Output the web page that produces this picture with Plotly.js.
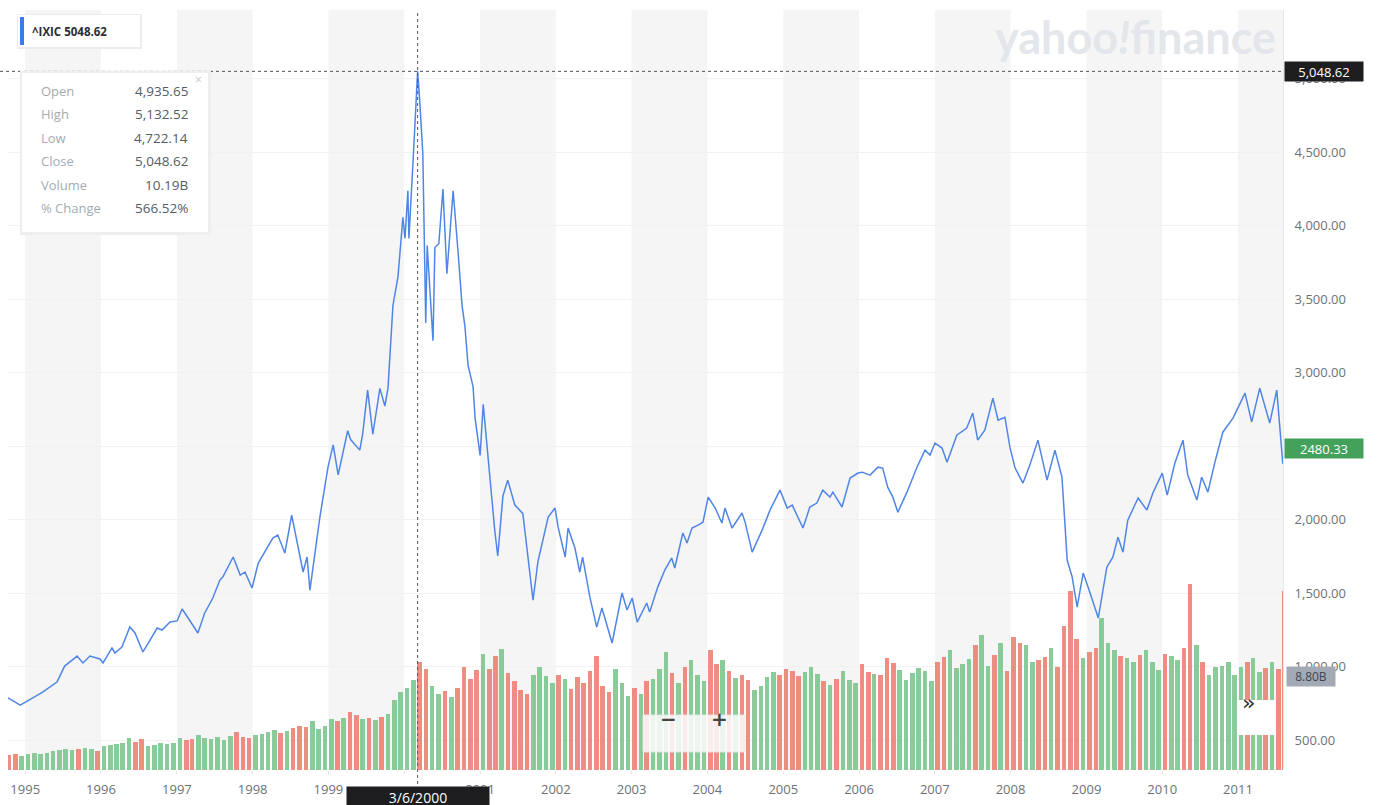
<!DOCTYPE html>
<html><head><meta charset="utf-8">
<script src="https://cdn.plot.ly/plotly-3.0.1.min.js"></script>
<style>html,body{margin:0;padding:0;background:#fff;}#chart{width:1378px;height:805px;}</style>
</head><body><div id="chart"></div>
<script>
// ---- price (weekly close) ----
const priceDates = [
 '1994-10-10','1994-12-08',
 '1995-03-26','1995-06-03','1995-07-10','1995-09-08','1995-10-06','1995-11-09','1995-12-27',
 '1996-01-11','1996-02-23','1996-03-08','1996-04-11','1996-05-19','1996-06-13','1996-07-21','1996-08-10','1996-09-28','1996-10-21','1996-11-29',
 '1997-01-02','1997-01-26','1997-02-24','1997-04-12','1997-05-15','1997-06-23','1997-07-27','1997-08-10','1997-09-29','1997-11-02','1997-11-25','1997-12-29',
 '1998-01-28','1998-03-01','1998-04-08','1998-05-02','1998-06-05','1998-07-08','1998-08-07','1998-09-01','1998-09-20','1998-10-04','1998-11-07','1998-11-21','1998-12-30',
 '1999-01-24','1999-02-17','1999-04-04','1999-04-18','1999-06-01','1999-06-15','1999-07-09','1999-08-03','1999-09-06','1999-09-30','1999-10-15','1999-11-08','1999-12-02','1999-12-26',
 '2000-01-05','2000-01-19','2000-01-24','2000-02-13','2000-03-06','2000-03-16','2000-03-31','2000-04-14','2000-04-21','2000-05-19','2000-05-28','2000-06-16','2000-07-06','2000-07-25','2000-08-24','2000-09-17','2000-10-06','2000-10-20','2000-11-04','2000-11-28','2000-12-08',
 '2001-01-01','2001-01-16','2001-03-13','2001-03-27','2001-04-21','2001-05-14','2001-06-17','2001-07-26','2001-08-05','2001-09-13','2001-10-07','2001-11-25','2001-12-28',
 '2002-01-12','2002-02-15','2002-03-01','2002-04-03','2002-04-26','2002-05-10','2002-06-14','2002-07-17','2002-08-11','2002-09-29','2002-11-16','2002-12-10',
 '2003-01-04','2003-01-28','2003-03-15','2003-03-29','2003-05-07','2003-06-10','2003-07-13','2003-07-28','2003-09-05','2003-09-25','2003-10-19','2003-11-17','2003-12-11',
 '2004-01-05','2004-02-08','2004-03-11','2004-03-26','2004-04-29','2004-06-16','2004-07-01','2004-08-04','2004-09-21','2004-10-29','2004-12-16',
 '2005-01-20','2005-02-13','2005-04-06','2005-05-09','2005-06-12','2005-07-10','2005-08-14','2005-08-28','2005-10-11','2005-11-19','2005-12-27',
 '2006-01-16','2006-02-23','2006-04-02','2006-04-25','2006-05-19','2006-06-13','2006-07-07','2006-08-20','2006-10-07','2006-11-15','2006-12-09',
 '2007-01-02','2007-02-05','2007-03-01','2007-04-17','2007-06-04','2007-07-03','2007-07-27','2007-08-30','2007-10-08','2007-11-02','2007-12-05','2007-12-29',
 '2008-01-23','2008-03-01','2008-04-03','2008-05-12','2008-06-25','2008-08-02','2008-09-05','2008-09-30','2008-10-24','2008-11-17','2008-12-16',
 '2009-01-09','2009-02-27','2009-04-09','2009-05-08','2009-06-02','2009-06-26','2009-07-19','2009-09-07','2009-10-19','2009-11-17',
 '2010-01-01','2010-01-25','2010-03-03','2010-04-11','2010-05-04','2010-06-17','2010-07-10','2010-08-09','2010-09-12','2010-10-20','2010-12-08',
 '2011-02-04','2011-03-08','2011-04-16','2011-06-03','2011-07-07','2011-08-05'
];
const priceClose = [
 786,738,
 826,894,1003,1071,1024,1071,1051,
 1024,1126,1092,1133,1269,1228,1099,1146,1262,1248,1303,
 1310,1391,1330,1228,1364,1466,1588,1609,1745,1622,1643,1534,
 1704,1779,1874,1894,1772,2030,1813,1643,1745,1520,1874,2017,2357,
 2508,2304,2604,2544,2472,2580,2880,2580,2892,2772,2892,3456,3648,4056,
 3912,4236,3912,4440,5048.62,4848,4488,3336,3864,3216,3852,3876,4248,3672,4236,3816,3456,3312,3048,2904,2688,
 2436,2784,1920,1752,2160,2268,2100,2040,1920,1452,1716,2016,2078,
 1948,1744,1942,1806,1643,1744,1472,1268,1398,1160,1500,1384,
 1466,1302,1432,1370,1540,1656,1738,1670,1908,1840,1942,1962,1982,
 2152,2078,1976,2078,1942,2044,1982,1778,1928,2064,2200,
 2078,2098,1942,2085,2112,2200,2152,2186,2085,2282,2316,
 2322,2302,2356,2350,2220,2152,2050,2186,2356,2472,2438,
 2520,2486,2390,2574,2622,2724,2540,2608,2826,2676,2696,2492,
 2350,2248,2370,2540,2268,2472,2288,1724,1609,1404,1636,
 1540,1330,1676,1744,1880,1778,1996,2146,2064,2180,
 2316,2166,2384,2540,2302,2132,2288,2186,2390,2594,2690,
 2860,2662,2894,2656,2880,2380
];

// ---- volume (billions, one bar per month, starting Oct 1994, through Jul 2011) ----
const volStartYear = 1994, volStartMonth = 10;
const volumeB = [
 1.4,1.5,1.3,
 1.5,1.6,1.5,1.6,1.8,1.9,2.0,1.9,2.0,2.1,2.0,1.8,
 2.3,2.4,2.5,2.6,3.0,2.7,2.9,2.3,2.4,2.6,2.5,2.6,
 3.0,2.8,2.9,3.3,3.0,2.9,3.1,2.8,3.2,3.6,3.1,3.0,
 3.3,3.4,3.6,3.8,3.5,3.7,4.0,4.2,4.1,4.6,3.9,4.2,
 4.8,4.6,4.9,5.5,5.2,4.8,4.9,4.7,5.0,5.3,6.6,7.4,
 7.8,8.5,10.19,9.6,8.0,7.2,7.5,6.9,7.8,9.8,8.6,9.5,
 11.0,9.6,10.8,11.5,9.2,8.4,7.6,7.2,9.0,9.8,8.9,8.2,
 9.0,8.6,7.7,8.8,8.2,9.4,10.8,8.0,7.4,9.6,8.2,7.0,
 7.8,7.2,8.4,8.6,9.6,11.2,9.2,8.2,9.8,10.4,9.0,8.4,
 11.4,10.0,10.4,9.4,8.7,9.0,8.5,7.6,8.0,8.8,9.3,9.0,
 9.6,9.4,8.9,9.3,9.8,9.1,8.4,8.1,8.6,9.4,8.5,8.2,
 10.0,9.3,9.1,9.0,10.6,10.1,9.5,8.5,9.2,9.7,9.4,8.4,
 10.2,10.7,11.4,9.7,10.0,10.5,11.8,12.8,9.9,10.9,12.0,9.4,
 12.6,12.0,11.8,10.2,10.4,10.7,11.6,9.8,13.6,17.0,12.4,10.6,
 11.2,11.6,14.4,12.0,11.4,10.8,10.6,10.2,10.9,11.4,10.2,9.5,
 11.0,10.8,10.4,11.6,17.6,11.8,10.2,9.0,9.8,9.9,10.2,9.0,
 9.8,10.2,10.6,9.3,9.7,10.2,9.6
];
// final (partial) week, drawn at the right edge
const lastWeekDate = '2011-08-03';
const lastWeekVolB = 17.0;

const yearTicks = [1995,1996,1997,1998,1999,2000,2001,2002,2003,2004,2005,2006,2007,2008,2009,2010,2011];
const priceTicks = [500,1000,1500,2000,2500,3000,3500,4000,4500,5000];
const tooltipLabels = ['Open','High','Low','Close','Volume','% Change'];
const tooltipValues = ['4,935.65','5,132.52','4,722.14','5,048.62','10.19B','566.52%'];
const symbol = '^IXIC';
const lastClose = 5048.62;
const hoverDate = '2000-03-06';
const hoverDateLabel = '3/6/2000';
const currentPrice = 2480.33;
const currentVolume = '8.80B';

// ---- derived ----
const pad = n => String(n).padStart(2,'0');
const volDates = [], volColors = [], volWidths = [];
const tms = priceDates.map(d => new Date(d).getTime());
function priceAt(t){
  if (t <= tms[0]) return priceClose[0];
  for (let i=1;i<tms.length;i++){ if (t <= tms[i]) { const f=(t-tms[i-1])/(tms[i]-tms[i-1]); return priceClose[i-1]+f*(priceClose[i]-priceClose[i-1]); } }
  return priceClose[priceClose.length-1];
}
const UP='rgba(122,196,140,0.88)', DOWN='rgba(236,126,114,0.88)';
const DAY=86400000;
volumeB.forEach((v,i)=>{
  const m0 = volStartMonth-1+i; const y = volStartYear+Math.floor(m0/12); const m = m0%12+1;
  volDates.push(`${y}-${pad(m)}-15`);
  volWidths.push(22*DAY);
  const a = priceAt(new Date(`${y}-${pad(m)}-01`).getTime());
  const ny = m===12? y+1 : y, nm = m===12? 1 : m+1;
  const b = priceAt(new Date(`${ny}-${pad(nm)}-01`).getTime());
  volColors.push(b>=a ? UP : DOWN);
});
const allVolX = volDates.concat([lastWeekDate]);
const allVolY = volumeB.concat([lastWeekVolB]).map(v=>v*1e9);
const allVolC = volColors.concat([DOWN]);
const allVolW = volWidths.concat([6*DAY]);

// pixel helpers for overlay widgets (plot area: x 8..1283, y 10..770)
const PL=8, PR=1283, PT=10, PB=770;
const px = x => (x-PL)/(PR-PL);
const py = y => (PB-y)/(PB-PT);

const shapes = [];
yearTicks.filter(y=>y%2===1).forEach(y=>{
  shapes.push({type:'rect', xref:'x', yref:'paper', x0:`${y}-01-01`, x1:`${y+1}-01-01`, y0:0, y1:1, fillcolor:'#f5f5f5', line:{width:0}, layer:'below'});
});
shapes.push({type:'line', xref:'x', yref:'paper', x0:hoverDate, x1:hoverDate, y0:py(790), y1:1, line:{color:'#555', width:1, dash:'dot'}});
shapes.push({type:'line', xref:'paper', yref:'y2', x0:px(0), x1:1, y0:lastClose, y1:lastClose, line:{color:'#555', width:1, dash:'dot'}});
shapes.push({type:'rect', xref:'paper', yref:'paper', x0:px(17), x1:px(142), y0:py(49), y1:py(14), fillcolor:'#ececec', line:{width:0}});
shapes.push({type:'rect', xref:'paper', yref:'paper', x0:px(18), x1:px(140), y0:py(47), y1:py(15), fillcolor:'#ffffff', line:{width:0}});
shapes.push({type:'rect', xref:'paper', yref:'paper', x0:px(20), x1:px(24), y0:py(45), y1:py(17), fillcolor:'#3b7be3', line:{width:0}});
shapes.push({type:'rect', xref:'paper', yref:'paper', x0:px(20), x1:px(211), y0:py(235), y1:py(71), fillcolor:'#eeeeee', line:{width:0}});
shapes.push({type:'rect', xref:'paper', yref:'paper', x0:px(22), x1:px(208), y0:py(232), y1:py(73), fillcolor:'#ffffff', line:{width:0}});
shapes.push({type:'rect', xref:'paper', yref:'paper', x0:px(643), x1:px(745), y0:py(752), y1:py(715), fillcolor:'rgba(250,250,250,0.88)', line:{color:'rgba(230,230,230,0.9)', width:1}});
shapes.push({type:'rect', xref:'paper', yref:'paper', x0:px(1238), x1:px(1276), y0:py(735), y1:py(700), fillcolor:'#ffffff', line:{width:0}});

const annotations = [];
const tagFont = {family:'Open Sans, sans-serif', size:13, color:'#ffffff'};
annotations.push({xref:'paper', yref:'paper', x:px(30), y:py(31), xanchor:'left', yanchor:'middle', showarrow:false,
  text:`<b>${symbol} ${lastClose}</b>`, font:{family:'Open Sans, sans-serif', size:11.5, color:'#2b2f33'}});
tooltipLabels.forEach((l,i)=>{
  const yy = 91 + i*23.4;
  annotations.push({xref:'paper', yref:'paper', x:px(39), y:py(yy), xanchor:'left', yanchor:'middle', showarrow:false,
    text:l, font:{family:'Open Sans, sans-serif', size:13, color:'#a4abb1'}});
  annotations.push({xref:'paper', yref:'paper', x:px(190), y:py(yy), xanchor:'right', yanchor:'middle', showarrow:false,
    text:tooltipValues[i], font:{family:'Open Sans, sans-serif', size:13.5, color:'#555c63'}});
});
annotations.push({xref:'paper', yref:'paper', x:px(198), y:py(80), xanchor:'center', yanchor:'middle', showarrow:false,
  text:'×', font:{family:'Open Sans, sans-serif', size:12, color:'#c4c8cc'}});
annotations.push({xref:'paper', yref:'paper', x:px(1135), y:py(37), xanchor:'center', yanchor:'middle', showarrow:false,
  text:'<b>yahoo<i>!</i>finance</b>', font:{family:'Lato, sans-serif', size:45, color:'#e3e6ea'}});
annotations.push({xref:'paper', yref:'y2', x:px(1284), y:lastClose, xanchor:'left', yanchor:'middle', showarrow:false,
  text:'5,048.62', bgcolor:'#1e1e20', width:76, height:17, font:tagFont});
annotations.push({xref:'paper', yref:'y2', x:px(1284), y:currentPrice, xanchor:'left', yanchor:'middle', showarrow:false,
  text:String(currentPrice), bgcolor:'#44a15c', width:76, height:17, font:tagFont});
annotations.push({xref:'paper', yref:'paper', x:px(1286), y:py(676), xanchor:'left', yanchor:'middle', showarrow:false,
  text:currentVolume, bgcolor:'#a3aab6', width:46, height:17, font:{family:'Open Sans, sans-serif', size:12, color:'#3e4552'}});
annotations.push({xref:'x', yref:'paper', x:hoverDate, y:py(797), xanchor:'center', yanchor:'middle', showarrow:false,
  text:hoverDateLabel, bgcolor:'#1e1e20', width:140, height:18, font:{family:'Open Sans, sans-serif', size:14, color:'#ffffff'}});
annotations.push({xref:'paper', yref:'paper', x:px(668), y:py(733), showarrow:false, text:'<b>−</b>', font:{family:'DejaVu Sans, sans-serif', size:20, color:'#444'}});
annotations.push({xref:'paper', yref:'paper', x:px(719), y:py(733), showarrow:false, text:'<b>+</b>', font:{family:'DejaVu Sans, sans-serif', size:20, color:'#444'}});
annotations.push({xref:'paper', yref:'paper', x:px(1257), y:py(717), showarrow:false, text:'»', font:{family:'DejaVu Sans, sans-serif', size:22, color:'#333'}});

// tick labels hidden behind the value tags in the picture are left blank
const hiddenPriceTick = 2500, hiddenYearTick = 2000;
const priceTickText = priceTicks.map(v => v===hiddenPriceTick ? '' : v.toLocaleString('en-US',{minimumFractionDigits:2, maximumFractionDigits:2}));
const yearTickText = yearTicks.map(y => y===hiddenYearTick ? '' : String(y));

const traces = [
  {type:'bar', x:allVolX, y:allVolY, yaxis:'y', width:allVolW, marker:{color:allVolC, line:{width:0}},
   hoverinfo:'skip', showlegend:false},
  {type:'scatter', mode:'lines', x:priceDates, y:priceClose, yaxis:'y2', line:{color:'#4f86e6', width:1.5},
   hoverinfo:'skip', showlegend:false}
];

const layout = {
  width:1378, height:805,
  margin:{l:PL, r:1378-PR, t:PT, b:805-PB},
  paper_bgcolor:'#ffffff', plot_bgcolor:'#ffffff',
  showlegend:false,
  xaxis:{type:'date', range:['1994-10-10','2011-08-06'], tickvals:yearTicks.map(y=>`${y}-01-01`), ticktext:yearTickText,
    tickfont:{family:'Open Sans, sans-serif', size:13, color:'#6b7278'}, ticks:'outside', ticklen:3, tickcolor:'#e4e4e4',
    ticklabelstandoff:4, showgrid:false, zeroline:false, showline:false, fixedrange:true},
  yaxis:{range:[0,72e9], visible:false, showgrid:false, fixedrange:true},
  yaxis2:{overlaying:'y', side:'right', range:[296,5466], tickvals:priceTicks, ticktext:priceTickText,
    tickfont:{family:'Open Sans, sans-serif', size:13, color:'#6b7278'}, ticks:'', ticklabelstandoff:8,
    showgrid:true, gridcolor:'#f1f1f1', zeroline:false, showline:true, linecolor:'#e8e8e8', fixedrange:true},
  shapes:shapes, annotations:annotations,
  bargap:0
};
Plotly.newPlot('chart', traces, layout, {displayModeBar:false, staticPlot:true});
</script></body></html>
